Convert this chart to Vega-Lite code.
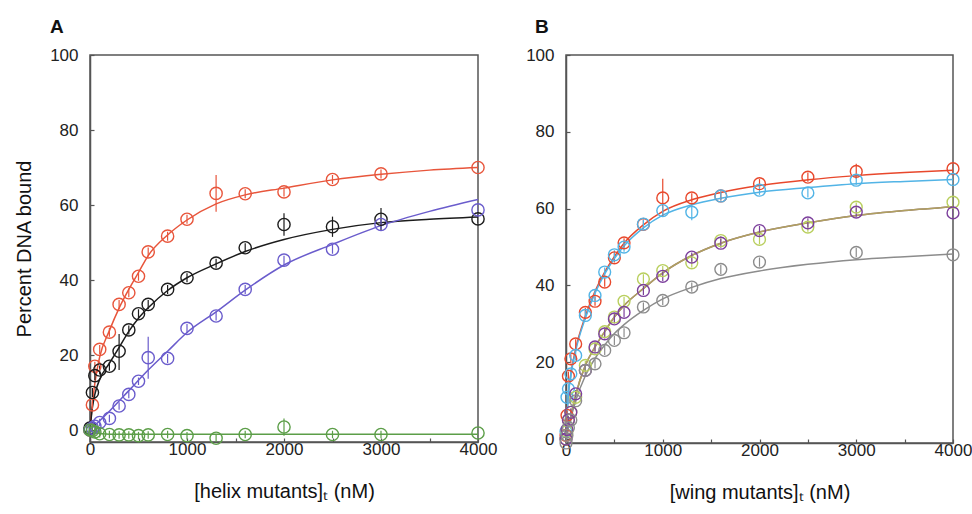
{
"$schema": "https://vega.github.io/schema/vega-lite/v6.json",
"background": "white",
"padding": {"left": 13, "top": 17, "right": 0, "bottom": 5},
"config": {
  "font": "Liberation Sans",
  "view": {"stroke": "#555", "strokeWidth": 1.5},
  "axis": {"grid": false, "domainColor": "#555", "domainWidth": 1.5, "tickColor": "#555", "tickSize": -4, "tickWidth": 1.2,
           "labelFont": "Liberation Sans", "labelFontSize": 17, "labelColor": "#222",
           "titleFont": "Liberation Sans", "titleFontSize": 20, "titleFontWeight": "normal", "titleColor": "#111"},
  "title": {"font": "Liberation Sans", "fontSize": 19, "fontWeight": "bold", "color": "#111"},
  "legend": {"disable": true}
},
"datasets": {
  "A_pts": [
    {"s":"red","x":0,"y":0,"lo":-1,"hi":1},
    {"s":"red","x":25,"y":6.7,"lo":5.5,"hi":7.9},
    {"s":"red","x":50,"y":17,"lo":15.8,"hi":18.2},
    {"s":"red","x":100,"y":21.5,"lo":20.3,"hi":22.7},
    {"s":"red","x":200,"y":26.1,"lo":24.9,"hi":27.3},
    {"s":"red","x":300,"y":33.5,"lo":32.3,"hi":34.7},
    {"s":"red","x":400,"y":36.6,"lo":35.4,"hi":37.8},
    {"s":"red","x":500,"y":41,"lo":39.8,"hi":42.2},
    {"s":"red","x":600,"y":47.5,"lo":46.3,"hi":48.7},
    {"s":"red","x":800,"y":51.7,"lo":50.5,"hi":52.9},
    {"s":"red","x":1000,"y":56.2,"lo":55,"hi":57.4},
    {"s":"red","x":1300,"y":63.1,"lo":58.2,"hi":68},
    {"s":"red","x":1600,"y":63,"lo":61.8,"hi":64.2},
    {"s":"red","x":2000,"y":63.5,"lo":62.3,"hi":64.7},
    {"s":"red","x":2500,"y":66.8,"lo":65.6,"hi":68},
    {"s":"red","x":3000,"y":68.3,"lo":67.1,"hi":69.5},
    {"s":"red","x":4000,"y":70,"lo":68.8,"hi":71.2},
    {"s":"black","x":0,"y":0.5,"lo":-0.7,"hi":1.7},
    {"s":"black","x":25,"y":10,"lo":8.8,"hi":11.2},
    {"s":"black","x":50,"y":14.5,"lo":13.3,"hi":15.7},
    {"s":"black","x":100,"y":16,"lo":14.8,"hi":17.2},
    {"s":"black","x":200,"y":17,"lo":15.8,"hi":18.2},
    {"s":"black","x":300,"y":21,"lo":16,"hi":25.6},
    {"s":"black","x":400,"y":26.7,"lo":25.5,"hi":27.9},
    {"s":"black","x":500,"y":31,"lo":29.8,"hi":32.2},
    {"s":"black","x":600,"y":33.5,"lo":32.3,"hi":34.7},
    {"s":"black","x":800,"y":37.5,"lo":36.3,"hi":38.7},
    {"s":"black","x":1000,"y":40.6,"lo":39.4,"hi":41.8},
    {"s":"black","x":1300,"y":44.5,"lo":43.3,"hi":45.7},
    {"s":"black","x":1600,"y":48.6,"lo":47.4,"hi":49.8},
    {"s":"black","x":2000,"y":54.8,"lo":51.8,"hi":57.8},
    {"s":"black","x":2500,"y":54.2,"lo":51.5,"hi":56.9},
    {"s":"black","x":3000,"y":56.2,"lo":53.2,"hi":59.2},
    {"s":"black","x":4000,"y":56.3,"lo":55.1,"hi":57.5},
    {"s":"blue","x":0,"y":0,"lo":-1,"hi":1},
    {"s":"blue","x":25,"y":0.5,"lo":-0.5,"hi":1.5},
    {"s":"blue","x":50,"y":1,"lo":0,"hi":2},
    {"s":"blue","x":100,"y":2,"lo":1,"hi":3},
    {"s":"blue","x":200,"y":3.1,"lo":2.1,"hi":4.1},
    {"s":"blue","x":300,"y":6.4,"lo":5.4,"hi":7.4},
    {"s":"blue","x":400,"y":9.5,"lo":8.5,"hi":10.5},
    {"s":"blue","x":500,"y":13,"lo":12,"hi":14},
    {"s":"blue","x":600,"y":19.3,"lo":13.7,"hi":24.9},
    {"s":"blue","x":800,"y":19.1,"lo":17.9,"hi":20.3},
    {"s":"blue","x":1000,"y":27.1,"lo":25.9,"hi":28.3},
    {"s":"blue","x":1300,"y":30.4,"lo":29.2,"hi":31.6},
    {"s":"blue","x":1600,"y":37.5,"lo":36.3,"hi":38.7},
    {"s":"blue","x":2000,"y":45.3,"lo":44.1,"hi":46.5},
    {"s":"blue","x":2500,"y":48.2,"lo":47,"hi":49.4},
    {"s":"blue","x":3000,"y":54.8,"lo":53.6,"hi":56},
    {"s":"blue","x":4000,"y":58.7,"lo":57.5,"hi":59.9},
    {"s":"green","x":0,"y":0,"lo":-1,"hi":1},
    {"s":"green","x":25,"y":-0.2,"lo":-1.2,"hi":0.8},
    {"s":"green","x":50,"y":-0.5,"lo":-1.5,"hi":0.5},
    {"s":"green","x":100,"y":-1,"lo":-2,"hi":0},
    {"s":"green","x":200,"y":-1.2,"lo":-2.2,"hi":-0.2},
    {"s":"green","x":300,"y":-1.3,"lo":-2.3,"hi":-0.3},
    {"s":"green","x":400,"y":-1.3,"lo":-2.3,"hi":-0.3},
    {"s":"green","x":500,"y":-1.5,"lo":-2.5,"hi":-0.5},
    {"s":"green","x":600,"y":-1.3,"lo":-2.3,"hi":-0.3},
    {"s":"green","x":800,"y":-1.2,"lo":-2.2,"hi":-0.2},
    {"s":"green","x":1000,"y":-1.5,"lo":-2.5,"hi":-0.5},
    {"s":"green","x":1300,"y":-2.2,"lo":-3.2,"hi":-1.2},
    {"s":"green","x":1600,"y":-1.2,"lo":-2.2,"hi":-0.2},
    {"s":"green","x":2000,"y":0.8,"lo":-1.5,"hi":3.1},
    {"s":"green","x":2500,"y":-1.2,"lo":-2.2,"hi":-0.2},
    {"s":"green","x":3000,"y":-1.2,"lo":-2.2,"hi":-0.2},
    {"s":"green","x":4000,"y":-0.8,"lo":-1.8,"hi":0.2}
  ],
  "A_lines": [
    {"s":"red","x":0,"y":0},{"s":"red","x":25,"y":7},{"s":"red","x":50,"y":12.5},{"s":"red","x":100,"y":19.5},{"s":"red","x":200,"y":26.5},{"s":"red","x":300,"y":32.5},{"s":"red","x":400,"y":37.5},{"s":"red","x":500,"y":42},{"s":"red","x":600,"y":46.5},{"s":"red","x":800,"y":52},{"s":"red","x":1000,"y":56},{"s":"red","x":1300,"y":60.3},{"s":"red","x":1600,"y":62.7},{"s":"red","x":2000,"y":64.5},{"s":"red","x":2500,"y":66.7},{"s":"red","x":3000,"y":68.2},{"s":"red","x":3500,"y":69.3},{"s":"red","x":4000,"y":70},
    {"s":"black","x":0,"y":0},{"s":"black","x":25,"y":6},{"s":"black","x":50,"y":9.5},{"s":"black","x":100,"y":13.5},{"s":"black","x":200,"y":17.8},{"s":"black","x":300,"y":22},{"s":"black","x":400,"y":26.3},{"s":"black","x":500,"y":29.8},{"s":"black","x":600,"y":32.6},{"s":"black","x":800,"y":37.2},{"s":"black","x":1000,"y":40.6},{"s":"black","x":1300,"y":44.3},{"s":"black","x":1600,"y":47.6},{"s":"black","x":2000,"y":50.8},{"s":"black","x":2500,"y":53.5},{"s":"black","x":3000,"y":55.3},{"s":"black","x":3500,"y":56.2},{"s":"black","x":4000,"y":56.8},
    {"s":"blue","x":0,"y":0},{"s":"blue","x":200,"y":5},{"s":"blue","x":400,"y":10.5},{"s":"blue","x":600,"y":16},{"s":"blue","x":800,"y":21},{"s":"blue","x":1000,"y":26},{"s":"blue","x":1300,"y":31.5},{"s":"blue","x":1600,"y":37.3},{"s":"blue","x":2000,"y":44},{"s":"blue","x":2500,"y":49.5},{"s":"blue","x":3000,"y":54.5},{"s":"blue","x":3500,"y":58.3},{"s":"blue","x":4000,"y":61.5},
    {"s":"green","x":0,"y":0},{"s":"green","x":50,"y":-0.8},{"s":"green","x":200,"y":-1.1},{"s":"green","x":1000,"y":-1.1},{"s":"green","x":2000,"y":-1.1},{"s":"green","x":3000,"y":-1.1},{"s":"green","x":4000,"y":-1.1}
  ],
  "B_pts": [
    {"s":"red","x":0,"y":1,"lo":0,"hi":2},
    {"s":"red","x":10,"y":6.2,"lo":5,"hi":7.4},
    {"s":"red","x":25,"y":16.4,"lo":15.2,"hi":17.6},
    {"s":"red","x":50,"y":20.9,"lo":19.7,"hi":22.1},
    {"s":"red","x":100,"y":24.8,"lo":23.6,"hi":26},
    {"s":"red","x":200,"y":33,"lo":31.8,"hi":34.2},
    {"s":"red","x":300,"y":35.9,"lo":34.7,"hi":37.1},
    {"s":"red","x":400,"y":40.9,"lo":39.7,"hi":42.1},
    {"s":"red","x":500,"y":47.2,"lo":46,"hi":48.4},
    {"s":"red","x":600,"y":51.1,"lo":49.9,"hi":52.3},
    {"s":"red","x":800,"y":55.9,"lo":54.7,"hi":57.1},
    {"s":"red","x":1000,"y":62.8,"lo":57.8,"hi":67.8},
    {"s":"red","x":1300,"y":62.8,"lo":61.6,"hi":64},
    {"s":"red","x":1600,"y":63.3,"lo":62.1,"hi":64.5},
    {"s":"red","x":2000,"y":66.5,"lo":65.3,"hi":67.7},
    {"s":"red","x":2500,"y":68.2,"lo":67,"hi":69.4},
    {"s":"red","x":3000,"y":69.7,"lo":67.7,"hi":71.7},
    {"s":"red","x":4000,"y":70.4,"lo":69.2,"hi":71.6},
    {"s":"blue","x":0,"y":2,"lo":1,"hi":3},
    {"s":"blue","x":10,"y":10.9,"lo":9.7,"hi":12.1},
    {"s":"blue","x":25,"y":13.1,"lo":11.9,"hi":14.3},
    {"s":"blue","x":50,"y":17,"lo":15.8,"hi":18.2},
    {"s":"blue","x":100,"y":21.8,"lo":20.6,"hi":23},
    {"s":"blue","x":200,"y":32.2,"lo":31,"hi":33.4},
    {"s":"blue","x":300,"y":37.4,"lo":36.2,"hi":38.6},
    {"s":"blue","x":400,"y":43.5,"lo":42.3,"hi":44.7},
    {"s":"blue","x":500,"y":48,"lo":46.8,"hi":49.2},
    {"s":"blue","x":600,"y":50,"lo":48.8,"hi":51.2},
    {"s":"blue","x":800,"y":56,"lo":54.8,"hi":57.2},
    {"s":"blue","x":1000,"y":59.5,"lo":58.3,"hi":60.7},
    {"s":"blue","x":1300,"y":59.1,"lo":57,"hi":61.2},
    {"s":"blue","x":1600,"y":63.3,"lo":62.1,"hi":64.5},
    {"s":"blue","x":2000,"y":64.8,"lo":63.6,"hi":66},
    {"s":"blue","x":2500,"y":64.1,"lo":62.9,"hi":65.3},
    {"s":"blue","x":3000,"y":67.4,"lo":66.2,"hi":68.6},
    {"s":"blue","x":4000,"y":67.6,"lo":66.4,"hi":68.8},
    {"s":"yg","x":0,"y":0,"lo":-1,"hi":1},
    {"s":"yg","x":10,"y":2,"lo":1,"hi":3},
    {"s":"yg","x":25,"y":5,"lo":4,"hi":6},
    {"s":"yg","x":50,"y":7,"lo":6,"hi":8},
    {"s":"yg","x":100,"y":10.9,"lo":9.9,"hi":11.9},
    {"s":"yg","x":200,"y":19.2,"lo":18,"hi":20.4},
    {"s":"yg","x":300,"y":23.5,"lo":22.3,"hi":24.7},
    {"s":"yg","x":400,"y":28,"lo":26.8,"hi":29.2},
    {"s":"yg","x":500,"y":31.8,"lo":30.6,"hi":33},
    {"s":"yg","x":600,"y":35.9,"lo":34.7,"hi":37.1},
    {"s":"yg","x":800,"y":41.7,"lo":40.5,"hi":42.9},
    {"s":"yg","x":1000,"y":43.9,"lo":42.7,"hi":45.1},
    {"s":"yg","x":1300,"y":45.9,"lo":44.7,"hi":47.1},
    {"s":"yg","x":1600,"y":51.7,"lo":50.5,"hi":52.9},
    {"s":"yg","x":2000,"y":52,"lo":50.8,"hi":53.2},
    {"s":"yg","x":2500,"y":55.2,"lo":54,"hi":56.4},
    {"s":"yg","x":3000,"y":60.4,"lo":59.2,"hi":61.6},
    {"s":"yg","x":4000,"y":61.7,"lo":60.5,"hi":62.9},
    {"s":"purple","x":0,"y":0,"lo":-1,"hi":1},
    {"s":"purple","x":10,"y":2.5,"lo":1.5,"hi":3.5},
    {"s":"purple","x":25,"y":5,"lo":4,"hi":6},
    {"s":"purple","x":50,"y":7,"lo":6,"hi":8},
    {"s":"purple","x":100,"y":11.8,"lo":10.8,"hi":12.8},
    {"s":"purple","x":200,"y":17.9,"lo":16.7,"hi":19.1},
    {"s":"purple","x":300,"y":24,"lo":22.8,"hi":25.2},
    {"s":"purple","x":400,"y":27.4,"lo":26.2,"hi":28.6},
    {"s":"purple","x":500,"y":31.3,"lo":30.1,"hi":32.5},
    {"s":"purple","x":600,"y":33,"lo":31.8,"hi":34.2},
    {"s":"purple","x":800,"y":38.7,"lo":37.5,"hi":39.9},
    {"s":"purple","x":1000,"y":42.4,"lo":41.2,"hi":43.6},
    {"s":"purple","x":1300,"y":47.4,"lo":46.2,"hi":48.6},
    {"s":"purple","x":1600,"y":51,"lo":49.8,"hi":52.2},
    {"s":"purple","x":2000,"y":54.3,"lo":53.1,"hi":55.5},
    {"s":"purple","x":2500,"y":56.3,"lo":55.1,"hi":57.5},
    {"s":"purple","x":3000,"y":59.1,"lo":57.9,"hi":60.3},
    {"s":"purple","x":4000,"y":58.9,"lo":57.7,"hi":60.1},
    {"s":"grey","x":0,"y":-1,"lo":-2,"hi":0},
    {"s":"grey","x":10,"y":1,"lo":0,"hi":2},
    {"s":"grey","x":25,"y":3,"lo":2,"hi":4},
    {"s":"grey","x":50,"y":5,"lo":4,"hi":6},
    {"s":"grey","x":100,"y":10,"lo":9,"hi":11},
    {"s":"grey","x":200,"y":17.9,"lo":16.7,"hi":19.1},
    {"s":"grey","x":300,"y":19.6,"lo":18.4,"hi":20.8},
    {"s":"grey","x":400,"y":23.1,"lo":21.9,"hi":24.3},
    {"s":"grey","x":500,"y":25.7,"lo":24.5,"hi":26.9},
    {"s":"grey","x":600,"y":27.7,"lo":26.5,"hi":28.9},
    {"s":"grey","x":800,"y":34.4,"lo":33.2,"hi":35.6},
    {"s":"grey","x":1000,"y":36.1,"lo":34.9,"hi":37.3},
    {"s":"grey","x":1300,"y":39.6,"lo":38.4,"hi":40.8},
    {"s":"grey","x":1600,"y":44.2,"lo":43,"hi":45.4},
    {"s":"grey","x":2000,"y":46.1,"lo":44.9,"hi":47.3},
    {"s":"grey","x":3000,"y":48.6,"lo":47.4,"hi":49.8},
    {"s":"grey","x":4000,"y":48,"lo":46.8,"hi":49.2}
  ],
  "B_lines": [
    {"s":"red","x":0,"y":0},{"s":"red","x":10,"y":6},{"s":"red","x":25,"y":12},{"s":"red","x":50,"y":17},{"s":"red","x":100,"y":23.5},{"s":"red","x":200,"y":32},{"s":"red","x":300,"y":38.5},{"s":"red","x":400,"y":43.5},{"s":"red","x":500,"y":47.5},{"s":"red","x":600,"y":51},{"s":"red","x":800,"y":55.8},{"s":"red","x":1000,"y":59.3},{"s":"red","x":1300,"y":62.3},{"s":"red","x":1600,"y":64.2},{"s":"red","x":2000,"y":66},{"s":"red","x":2500,"y":67.5},{"s":"red","x":3000,"y":68.6},{"s":"red","x":3500,"y":69.4},{"s":"red","x":4000,"y":70},
    {"s":"blue","x":0,"y":0},{"s":"blue","x":10,"y":5.5},{"s":"blue","x":25,"y":11.5},{"s":"blue","x":50,"y":16.5},{"s":"blue","x":100,"y":23},{"s":"blue","x":200,"y":31.5},{"s":"blue","x":300,"y":38},{"s":"blue","x":400,"y":43},{"s":"blue","x":500,"y":47},{"s":"blue","x":600,"y":50.3},{"s":"blue","x":800,"y":55},{"s":"blue","x":1000,"y":58.3},{"s":"blue","x":1300,"y":61},{"s":"blue","x":1600,"y":62.7},{"s":"blue","x":2000,"y":64.3},{"s":"blue","x":2500,"y":65.5},{"s":"blue","x":3000,"y":66.5},{"s":"blue","x":3500,"y":67.1},{"s":"blue","x":4000,"y":67.6},
    {"s":"purple","x":0,"y":0},{"s":"purple","x":25,"y":3},{"s":"purple","x":50,"y":6},{"s":"purple","x":100,"y":11.5},{"s":"purple","x":200,"y":19.2},{"s":"purple","x":300,"y":24},{"s":"purple","x":400,"y":28},{"s":"purple","x":500,"y":31.8},{"s":"purple","x":600,"y":34.8},{"s":"purple","x":800,"y":39.2},{"s":"purple","x":1000,"y":43.3},{"s":"purple","x":1300,"y":47.8},{"s":"purple","x":1600,"y":51},{"s":"purple","x":2000,"y":53.9},{"s":"purple","x":2500,"y":56.3},{"s":"purple","x":3000,"y":58.2},{"s":"purple","x":3500,"y":59.5},{"s":"purple","x":4000,"y":60.5},
    {"s":"yg","x":0,"y":0},{"s":"yg","x":25,"y":3},{"s":"yg","x":50,"y":6},{"s":"yg","x":100,"y":11.5},{"s":"yg","x":200,"y":19.2},{"s":"yg","x":300,"y":24},{"s":"yg","x":400,"y":28},{"s":"yg","x":500,"y":31.8},{"s":"yg","x":600,"y":34.8},{"s":"yg","x":800,"y":39.2},{"s":"yg","x":1000,"y":43.3},{"s":"yg","x":1300,"y":47.8},{"s":"yg","x":1600,"y":51},{"s":"yg","x":2000,"y":53.9},{"s":"yg","x":2500,"y":56.3},{"s":"yg","x":3000,"y":58.2},{"s":"yg","x":3500,"y":59.5},{"s":"yg","x":4000,"y":60.5},
    {"s":"grey","x":0,"y":0},{"s":"grey","x":25,"y":3.2},{"s":"grey","x":50,"y":5.5},{"s":"grey","x":100,"y":10},{"s":"grey","x":200,"y":16.5},{"s":"grey","x":300,"y":21},{"s":"grey","x":400,"y":24.5},{"s":"grey","x":500,"y":27.5},{"s":"grey","x":600,"y":29.8},{"s":"grey","x":800,"y":33.5},{"s":"grey","x":1000,"y":36.5},{"s":"grey","x":1300,"y":39.5},{"s":"grey","x":1600,"y":41.8},{"s":"grey","x":2000,"y":43.8},{"s":"grey","x":2500,"y":45.5},{"s":"grey","x":3000,"y":46.7},{"s":"grey","x":3500,"y":47.5},{"s":"grey","x":4000,"y":48.2}
  ]
},
"spacing": 26,
"resolve": {"scale": {"color": "independent"}},
"hconcat": [
  {
    "width": 388, "height": 387,
    "title": {"text": "A", "anchor": "start", "frame": "group", "dx": -40, "offset": 9},
    "encoding": {
      "x": {"field": "x", "type": "quantitative", "scale": {"domain": [0, 4000], "nice": false},
            "axis": {"values": [0,500,1000,1500,2000,2500,3000,3500,4000], "format": "d", "labelExpr": "datum.value % 1000 === 0 ? datum.label : ''", "labelFlush": false, "labelOverlap": false, "labelPadding": 3, "title": "[helix mutants]ₜ (nM)", "titlePadding": 24}},
      "y": {"field": "y", "type": "quantitative", "scale": {"domain": [-3.2, 100], "nice": false, "zero": false},
            "axis": {"values": [0,20,40,60,80,100], "labelPadding": 16, "title": "Percent DNA bound", "titlePadding": 15}},
      "color": {"field": "s", "type": "nominal", "scale": {"domain": ["red","black","blue","green"], "range": ["#e8553b","#1c1c1c","#6a5ccc","#5c9e48"]}, "legend": null}
    },
    "layer": [
      {"data": {"name": "A_lines"}, "mark": {"type": "line", "strokeWidth": 1.5, "interpolate": "monotone", "clip": true}},
      {"data": {"name": "A_pts"}, "mark": {"type": "rule", "strokeWidth": 1.2, "clip": true}, "encoding": {"y": {"field": "lo", "type": "quantitative"}, "y2": {"field": "hi"}}},
      {"data": {"name": "A_pts"}, "mark": {"type": "point", "shape": "circle", "filled": false, "size": 150, "strokeWidth": 1.4, "opacity": 1}}
    ]
  },
  {
    "width": 387, "height": 388,
    "title": {"text": "B", "anchor": "start", "frame": "group", "dx": -31, "offset": 9},
    "encoding": {
      "x": {"field": "x", "type": "quantitative", "scale": {"domain": [0, 4000], "nice": false},
            "axis": {"values": [0,500,1000,1500,2000,2500,3000,3500,4000], "format": "d", "labelExpr": "datum.value % 1000 === 0 ? datum.label : ''", "labelFlush": false, "labelOverlap": false, "labelPadding": 3, "title": "[wing mutants]ₜ (nM)", "titlePadding": 24}},
      "y": {"field": "y", "type": "quantitative", "scale": {"domain": [-1, 100], "nice": false, "zero": false},
            "axis": {"values": [0,20,40,60,80,100], "labelPadding": 16, "title": null}},
      "color": {"field": "s", "type": "nominal", "scale": {"domain": ["red","blue","yg","purple","grey"], "range": ["#e8482c","#52b4e6","#b9cf5e","#7c3f9c","#8c8c8c"]}, "legend": null}
    },
    "layer": [
      {"data": {"name": "B_lines"}, "mark": {"type": "line", "strokeWidth": 1.5, "interpolate": "monotone", "clip": true},
       "encoding": {"color": {"field": "s", "type": "nominal", "scale": {"domain": ["red","blue","purple","yg","grey"], "range": ["#e8482c","#52b4e6","#8e6a7c","#b0a060","#8c8c8c"]}, "legend": null}}},
      {"data": {"name": "B_pts"}, "mark": {"type": "rule", "strokeWidth": 1.2, "clip": true}, "encoding": {"y": {"field": "lo", "type": "quantitative"}, "y2": {"field": "hi"}}},
      {"data": {"name": "B_pts"}, "mark": {"type": "point", "shape": "circle", "filled": false, "size": 140, "strokeWidth": 1.4, "opacity": 1}}
    ],
    "resolve": {"scale": {"color": "independent"}}
  }
]
}
